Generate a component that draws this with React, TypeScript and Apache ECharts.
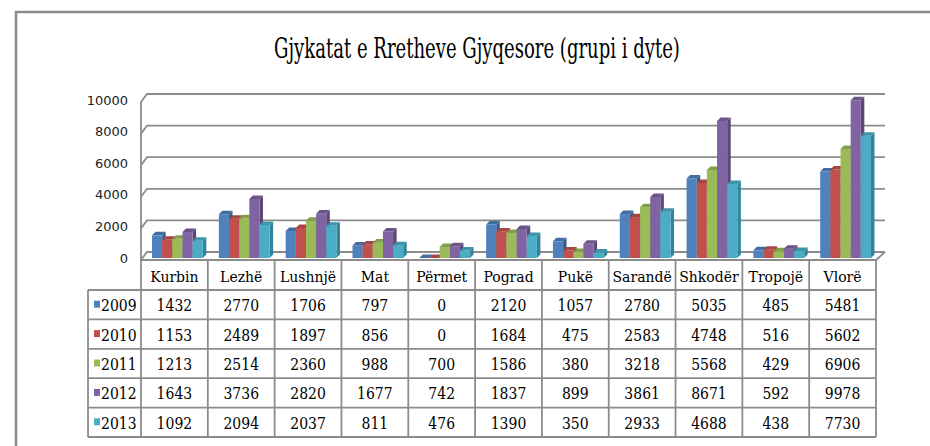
import React, { useEffect, useRef } from "react";
import * as echarts from "echarts";

const TITLE = "Gjykatat e Rretheve Gjyqesore (grupi i dyte)";
const CATEGORIES = ["Kurbin", "Lezhë", "Lushnjë", "Mat", "Përmet", "Pograd", "Pukë", "Sarandë", "Shkodër", "Tropojë", "Vlorë"];
const YEARS = ["2009", "2010", "2011", "2012", "2013"];
const V2009 = [1432, 2770, 1706, 797, 0, 2120, 1057, 2780, 5035, 485, 5481];
const V2010 = [1153, 2489, 1897, 856, 0, 1684, 475, 2583, 4748, 516, 5602];
const V2011 = [1213, 2514, 2360, 988, 700, 1586, 380, 3218, 5568, 429, 6906];
const V2012 = [1643, 3736, 2820, 1677, 742, 1837, 899, 3861, 8671, 592, 9978];
const V2013 = [1092, 2094, 2037, 811, 476, 1390, 350, 2933, 4688, 438, 7730];
const SERIES_VALUES = [V2009, V2010, V2011, V2012, V2013];
const Y_TICKS = [0, 2000, 4000, 6000, 8000, 10000];

const FRONT = ["#4F81BD", "#C0504D", "#9BBB59", "#8064A2", "#4BACC6"];
const SIDE = ["#385D8A", "#8C3836", "#71893F", "#5C4776", "#31849B"];
const TOP = ["#426DA0", "#A64542", "#849F4B", "#6C5489", "#3F93A9"];

const SERIF = "DejaVu Serif";
const W = 930;
const H = 446;
const G_LEFT = 141;
const G_RIGHT_X = 876;
const G_TOP = 100;
const G_BOTTOM_Y = 258;
const HEADER_TOP = 260;
const ROW_TOP = 290;
const ROW_H = 29.4;
const LEG_LEFT = 88;
const LINE = "#8c8c8c";
const DX = 3.5;
const DY = 3.5;

export default function App() {
  const ref = useRef<HTMLDivElement>(null);
  useEffect(() => {
    if (!ref.current) return;
    const chart = echarts.init(ref.current, null, { renderer: "svg" });
    const colW = (G_RIGHT_X - G_LEFT) / CATEGORIES.length;
    const tableBottom = ROW_TOP + ROW_H * YEARS.length;

    const graphics: any[] = [];
    graphics.push({
      type: "rect",
      shape: { x: 16, y: 12, width: 1000, height: 600 },
      style: { fill: "none", stroke: "#8a8a8a", lineWidth: 2.5 },
      silent: true,
      z: 0,
    });
    graphics.push({
      type: "text",
      x: 477,
      y: 48,
      scaleX: 0.95,
      scaleY: 1.45,
      style: {
        text: TITLE,
        fontFamily: SERIF,
        fontSize: 19,
        fill: "#000",
        align: "center",
        verticalAlign: "middle",
        textAlign: "center",
        textVerticalAlign: "middle",
      },
      z: 10,
    });
    for (let r = 0; r <= YEARS.length; r++) {
      const y = ROW_TOP + r * ROW_H;
      graphics.push({
        type: "line",
        shape: { x1: LEG_LEFT, y1: y, x2: G_RIGHT_X, y2: y },
        style: { stroke: LINE, lineWidth: 1.8 },
        z: 5,
      });
    }
    graphics.push({
      type: "line",
      shape: { x1: LEG_LEFT, y1: ROW_TOP, x2: LEG_LEFT, y2: tableBottom },
      style: { stroke: LINE, lineWidth: 1.8 },
      z: 5,
    });
    graphics.push({
      type: "line",
      shape: { x1: G_LEFT, y1: HEADER_TOP, x2: G_LEFT, y2: tableBottom },
      style: { stroke: LINE, lineWidth: 1.8 },
      z: 5,
    });
    for (let c = 1; c <= CATEGORIES.length; c++) {
      const x = G_LEFT + c * colW;
      graphics.push({
        type: "line",
        shape: { x1: x, y1: HEADER_TOP, x2: x, y2: tableBottom },
        style: { stroke: LINE, lineWidth: 1.8 },
        z: 5,
      });
    }
    YEARS.forEach((yr, r) => {
      const cy = ROW_TOP + r * ROW_H + ROW_H / 2;
      graphics.push({
        type: "rect",
        shape: { x: 94, y: cy - 4, width: 6, height: 7 },
        style: { fill: FRONT[r] },
        z: 6,
      });
      graphics.push({
        type: "text",
        x: 101,
        y: cy + 1,
        scaleY: 1.2,
        style: {
          text: yr,
          fontFamily: SERIF,
          fontSize: 14,
          fill: "#000",
          align: "left",
          verticalAlign: "middle",
          textAlign: "left",
          textVerticalAlign: "middle",
        },
        z: 6,
      });
      SERIES_VALUES[r].forEach((v, c) => {
        graphics.push({
          type: "text",
          x: G_LEFT + (c + 0.5) * colW,
          y: cy + 1,
          scaleY: 1.2,
          style: {
            text: String(v),
            fontFamily: SERIF,
            fontSize: 14,
            fill: "#000",
            align: "center",
            verticalAlign: "middle",
            textAlign: "center",
            textVerticalAlign: "middle",
          },
          z: 6,
        });
      });
    });

    const wallSeries = {
      type: "custom",
      name: "walls",
      silent: true,
      z: 1,
      data: Y_TICKS.map((v) => [0, v]),
      encode: { x: 0, y: 1 },
      renderItem: (params: any, api: any) => {
        const cs = params.coordSys;
        const left = cs.x;
        const right = cs.x + cs.width;
        const v = api.value(1);
        const y = api.coord([0, v])[1];
        const st = { stroke: LINE, lineWidth: 1.8, fill: "none" };
        const children: any[] = [
          {
            type: "polyline",
            shape: { points: [[left, y + 2], [left + 6, y - 6], [right + 9, y - 6]] },
            style: st,
          },
        ];
        if (v === 0) {
          const yTop = api.coord([0, Y_TICKS[Y_TICKS.length - 1]])[1];
          children.push({
            type: "polyline",
            shape: { points: [[left, yTop + 2], [left, y + 2], [right, y + 2], [right + 9, y - 6]] },
            style: st,
          });
        }
        return { type: "group", children };
      },
    };

    const barSeries = SERIES_VALUES.map((vals, si) => ({
      type: "custom",
      name: YEARS[si],
      z: 2,
      data: vals.map((v, i) => [i, v]),
      encode: { x: 0, y: 1 },
      renderItem: (params: any, api: any) => {
        const cat = api.value(0);
        const val = api.value(1);
        const base = api.coord([cat, 0]);
        const top = api.coord([cat, val]);
        const band = api.size([1, 0])[0];
        const w = band * 0.152;
        const x0 = base[0] - band / 2 + band * 0.165 + si * w;
        const yT = top[1];
        const yB = base[1];
        return {
          type: "group",
          children: [
            {
              type: "polygon",
              shape: { points: [[x0 + w, yT], [x0 + w + DX, yT - DY], [x0 + w + DX, yB - DY], [x0 + w, yB]] },
              style: { fill: SIDE[si] },
            },
            {
              type: "rect",
              shape: { x: x0, y: yT, width: w, height: yB - yT },
              style: { fill: FRONT[si] },
            },
            {
              type: "polygon",
              shape: { points: [[x0, yT], [x0 + DX, yT - DY], [x0 + w + DX, yT - DY], [x0 + w, yT]] },
              style: { fill: TOP[si] },
            },
          ],
        };
      },
    }));

    chart.setOption({
      animation: false,
      backgroundColor: "#fff",
      grid: { left: G_LEFT, right: W - G_RIGHT_X, top: G_TOP, bottom: H - G_BOTTOM_Y, containLabel: false },
      xAxis: {
        type: "category",
        data: CATEGORIES,
        axisLine: { show: false },
        axisTick: { show: false },
        splitLine: { show: false },
        axisLabel: {
          interval: 0,
          margin: 19,
          verticalAlign: "middle",
          fontFamily: SERIF,
          fontSize: 14,
          color: "#000",
        },
      },
      yAxis: {
        type: "value",
        min: 0,
        max: 10000,
        interval: 2000,
        axisLine: { show: false },
        axisTick: { show: false },
        splitLine: { show: false },
        axisLabel: {
          margin: 13,
          fontFamily: "DejaVu Sans",
          fontSize: 13,
          color: "#222",
          padding: [5, 0, 0, 0],
          formatter: (v: number) => String(v),
        },
      },
      graphic: graphics,
      series: [wallSeries, ...barSeries],
    });
    return () => chart.dispose();
  }, []);
  return (
    <div
      ref={ref}
      style={{ position: "absolute", left: 0, top: 0, width: W, height: H }}
    />
  );
}
